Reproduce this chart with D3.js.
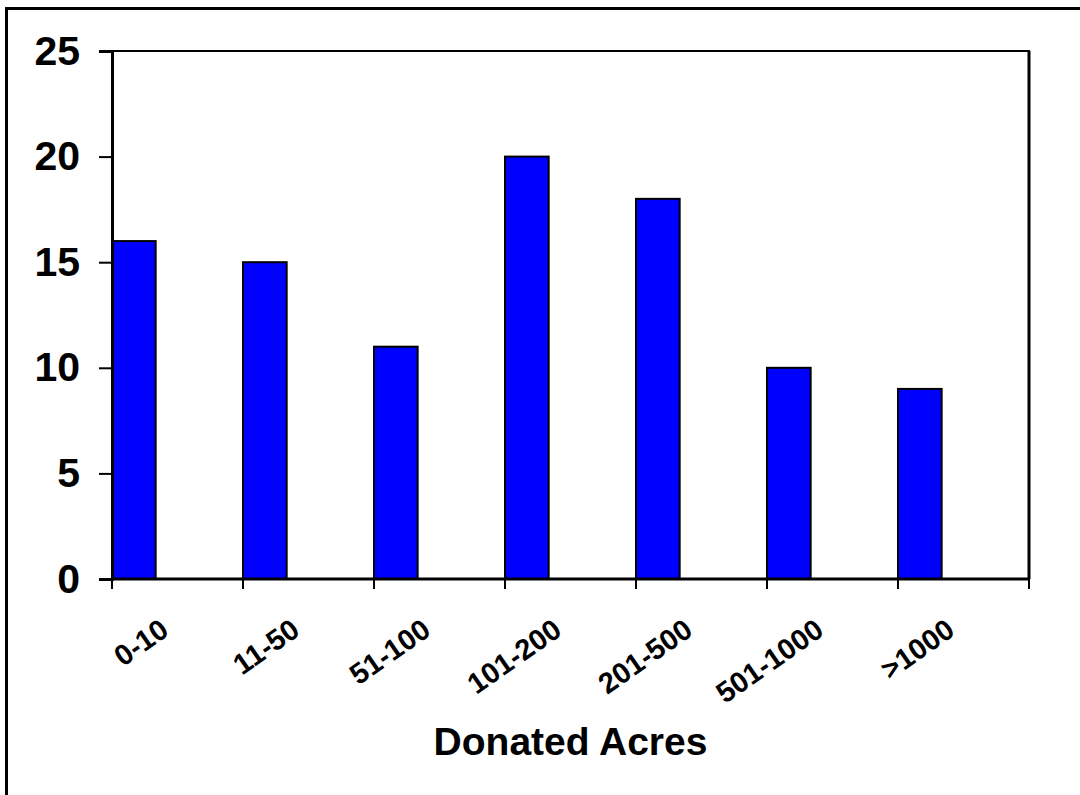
<!DOCTYPE html>
<html>
<head>
<meta charset="utf-8">
<script src="https://cdn.jsdelivr.net/npm/d3@7"></script>
<style>
  html, body { margin: 0; padding: 0; background: #fff; }
  svg { display: block; }
  text { font-family: "Liberation Sans", Arial, sans-serif; font-weight: bold; fill: #000; }
</style>
</head>
<body>
<svg id="chart" width="1080" height="795"></svg>
<script>
// Donated acreage classes and the number of donations in each
const categories = ["0-10", "11-50", "51-100", "101-200", "201-500", "501-1000", ">1000"];
const counts = [16, 15, 11, 20, 18, 10, 9];
const yTicks = [0, 5, 10, 15, 20, 25];
const xTitle = "Donated Acres";

const W = 1080, H = 795;
const plot = { left: 112, right: 1029, top: 51, bottom: 579 };

const svg = d3.select("#chart");

// outer chart frame (extends past the right and bottom edges)
svg.append("rect")
  .attr("x", 6.5).attr("y", 8.5)
  .attr("width", W + 20).attr("height", H + 20)
  .attr("fill", "#fff").attr("stroke", "#000").attr("stroke-width", 3);

const x = d3.scaleBand()
  .domain(categories)
  .range([plot.left, plot.right])
  .paddingInner(0).paddingOuter(0);

const y = d3.scaleLinear()
  .domain([0, 25])
  .range([plot.bottom, plot.top]);

// plot area border
svg.append("rect")
  .attr("x", plot.left).attr("y", plot.top)
  .attr("width", plot.right - plot.left).attr("height", plot.bottom - plot.top)
  .attr("fill", "none").attr("stroke", "#000").attr("stroke-width", 2);
svg.append("line")
  .attr("x1", plot.right).attr("x2", plot.right)
  .attr("y1", plot.top).attr("y2", plot.bottom)
  .attr("stroke", "#000").attr("stroke-width", 3);

// bars: each occupies the first third of its category slot
const barW = x.bandwidth() / 3;
svg.append("g").selectAll("rect")
  .data(categories.map((c, i) => ({ c, v: counts[i] })))
  .join("rect")
  .attr("x", d => x(d.c))
  .attr("y", d => y(d.v))
  .attr("width", barW)
  .attr("height", d => y(0) - y(d.v))
  .attr("fill", "#0000FF")
  .attr("stroke", "#000")
  .attr("stroke-width", 2);

// y axis
const yAxis = svg.append("g")
  .attr("transform", `translate(${plot.left},0)`)
  .call(d3.axisLeft(y).tickValues(yTicks).tickSize(13).tickPadding(19).tickFormat(d3.format("d")));
yAxis.select(".domain").attr("stroke", "#000").attr("stroke-width", 3);
yAxis.selectAll(".tick line").attr("stroke", "#000").attr("stroke-width", 2);
yAxis.selectAll(".tick text")
  .attr("font-size", 41)
  .attr("font-family", "Liberation Sans, Arial, sans-serif")
  .attr("font-weight", "bold")
  .attr("fill", "#000");

// x axis: ticks sit on category boundaries
const boundaries = categories.map(c => x(c)).concat([x(categories[categories.length - 1]) + x.bandwidth()]);
const xg = svg.append("g");
xg.append("line")
  .attr("x1", plot.left).attr("x2", plot.right)
  .attr("y1", plot.bottom).attr("y2", plot.bottom)
  .attr("stroke", "#000").attr("stroke-width", 3);
xg.selectAll("line.tick")
  .data(boundaries)
  .join("line")
  .attr("class", "tick")
  .attr("x1", d => d).attr("x2", d => d)
  .attr("y1", plot.bottom).attr("y2", plot.bottom + 10)
  .attr("stroke", "#000").attr("stroke-width", 2);

// rotated category labels
xg.selectAll("text.cat")
  .data(categories)
  .join("text")
  .attr("class", "cat")
  .attr("text-anchor", "end")
  .attr("font-size", 29)
  .attr("transform", d => `translate(${x(d) + x.bandwidth() / 2 - 7},${plot.bottom + 55}) rotate(-35)`)
  .text(d => d);

// axis title
svg.append("text")
  .attr("x", (plot.left + plot.right) / 2)
  .attr("y", 755)
  .attr("text-anchor", "middle")
  .attr("font-size", 39)
  .text(xTitle);
</script>
</body>
</html>
